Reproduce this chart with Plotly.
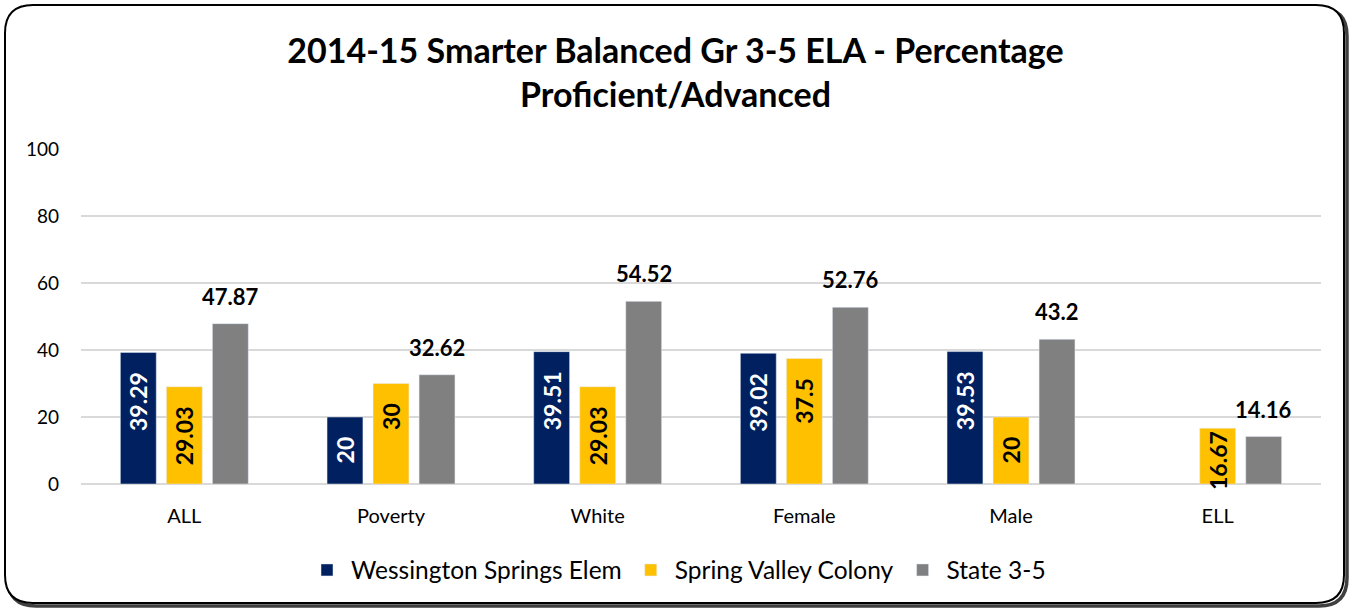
import plotly.graph_objects as go

categories = ["ALL", "Poverty", "White", "Female", "Male", "ELL"]
wessington = [39.29, 20, 39.51, 39.02, 39.53, None]
spring_valley = [29.03, 30, 29.03, 37.5, 20, 16.67]
state = [47.87, 32.62, 54.52, 52.76, 43.2, 14.16]
series_names = ["Wessington Springs Elem", "Spring Valley Colony", "State 3-5"]
title_text = "2014-15 Smarter Balanced Gr 3-5 ELA - Percentage<br>Proficient/Advanced"

W, H = 1351, 609
ML, MR, MT, MB = 81, 30, 149, 125
FONT = "Lato"
NB = "\u00a0"
BARGAP, GROUPGAP = 0.332, 0.22

def inside_fmt(v):
    if v is None:
        return ""
    pad = NB * 3 if v >= 19 else ""
    return f"{v:g}" + pad

fig = go.Figure()
fig.add_trace(go.Bar(
    name=series_names[0], x=categories, y=wessington, marker_color="#002060",
    text=[inside_fmt(v) for v in wessington], textposition="inside", insidetextanchor="end",
    textangle=-90, constraintext="none", cliponaxis=False,
    textfont=dict(family=FONT, size=23, color="white", weight="bold"),
))
fig.add_trace(go.Bar(
    name=series_names[1], x=categories, y=spring_valley, marker_color="#FFC000",
    text=[inside_fmt(v) for v in spring_valley], textposition="inside", insidetextanchor="end",
    textangle=-90, constraintext="none", cliponaxis=False,
    textfont=dict(family=FONT, size=23, color="black", weight="bold"),
))
fig.add_trace(go.Bar(
    name=series_names[2], x=categories, y=state, marker_color="#808080",
))

pw = W - ML - MR
ph = H - MT - MB
slot = pw / len(categories) * (1 - BARGAP) / 3
annotations = [
    dict(x=c, y=v, xref="x", yref="y", text=f"{v:g}", showarrow=False,
         xanchor="center", yanchor="bottom", xshift=slot, yshift=12,
         font=dict(family=FONT, size=22, color="black", weight="bold"))
    for c, v in zip(categories, state)
]

def px_x(p):
    return (p - ML) / pw
def px_y(p):
    return 1 - (p - MT) / ph

def rounded_path(x0, y0, x1, y1, r):
    X = lambda p: px_x(p)
    Y = lambda p: px_y(p)
    return (f"M {X(x0+r)},{Y(y0)} L {X(x1-r)},{Y(y0)} Q {X(x1)},{Y(y0)} {X(x1)},{Y(y0+r)} "
            f"L {X(x1)},{Y(y1-r)} Q {X(x1)},{Y(y1)} {X(x1-r)},{Y(y1)} "
            f"L {X(x0+r)},{Y(y1)} Q {X(x0)},{Y(y1)} {X(x0)},{Y(y1-r)} "
            f"L {X(x0)},{Y(y0+r)} Q {X(x0)},{Y(y0)} {X(x0+r)},{Y(y0)} Z")

shapes = [
    dict(type="path", xref="paper", yref="paper", path=rounded_path(8, 8, 1347, 606, 28),
         line=dict(color="#404040", width=3.5), layer="below"),
    dict(type="path", xref="paper", yref="paper", path=rounded_path(5, 5, 1344, 603, 28),
         line=dict(color="black", width=2), fillcolor="white", layer="below"),
]

fig.update_layout(
    width=W, height=H,
    margin=dict(l=ML, r=MR, t=MT, b=MB, autoexpand=False),
    paper_bgcolor="white", plot_bgcolor="rgba(0,0,0,0)",
    font=dict(family=FONT, color="black"),
    title=dict(text=title_text, x=0.5, xref="container", xanchor="center",
               y=1 - 63 / H, yref="container", yanchor="middle",
               font=dict(family=FONT, size=34, color="black", weight="bold")),
    barmode="group", bargap=BARGAP, bargroupgap=GROUPGAP,
    showlegend=True,
    legend=dict(orientation="h", x=px_x(677), xanchor="center",
                y=px_y(570), yanchor="middle", itemwidth=38,
                font=dict(family=FONT, size=24.5, color="black"), traceorder="normal"),
    xaxis=dict(showgrid=False, showline=False, ticks="", ticklabelstandoff=18,
               tickfont=dict(size=20, family=FONT)),
    yaxis=dict(range=[0, 100], dtick=20, showgrid=True, gridcolor="#d9d9d9", gridwidth=1.5,
               zeroline=True, zerolinecolor="#d9d9d9", zerolinewidth=1.5,
               showline=False, ticks="", ticklabelstandoff=21, tickfont=dict(size=19, family=FONT)),
    shapes=shapes,
    annotations=annotations,
)

fig.write_html("out.html", config={"displayModeBar": False},
               post_script="document.body.style.margin='0';document.body.style.padding='0';")
